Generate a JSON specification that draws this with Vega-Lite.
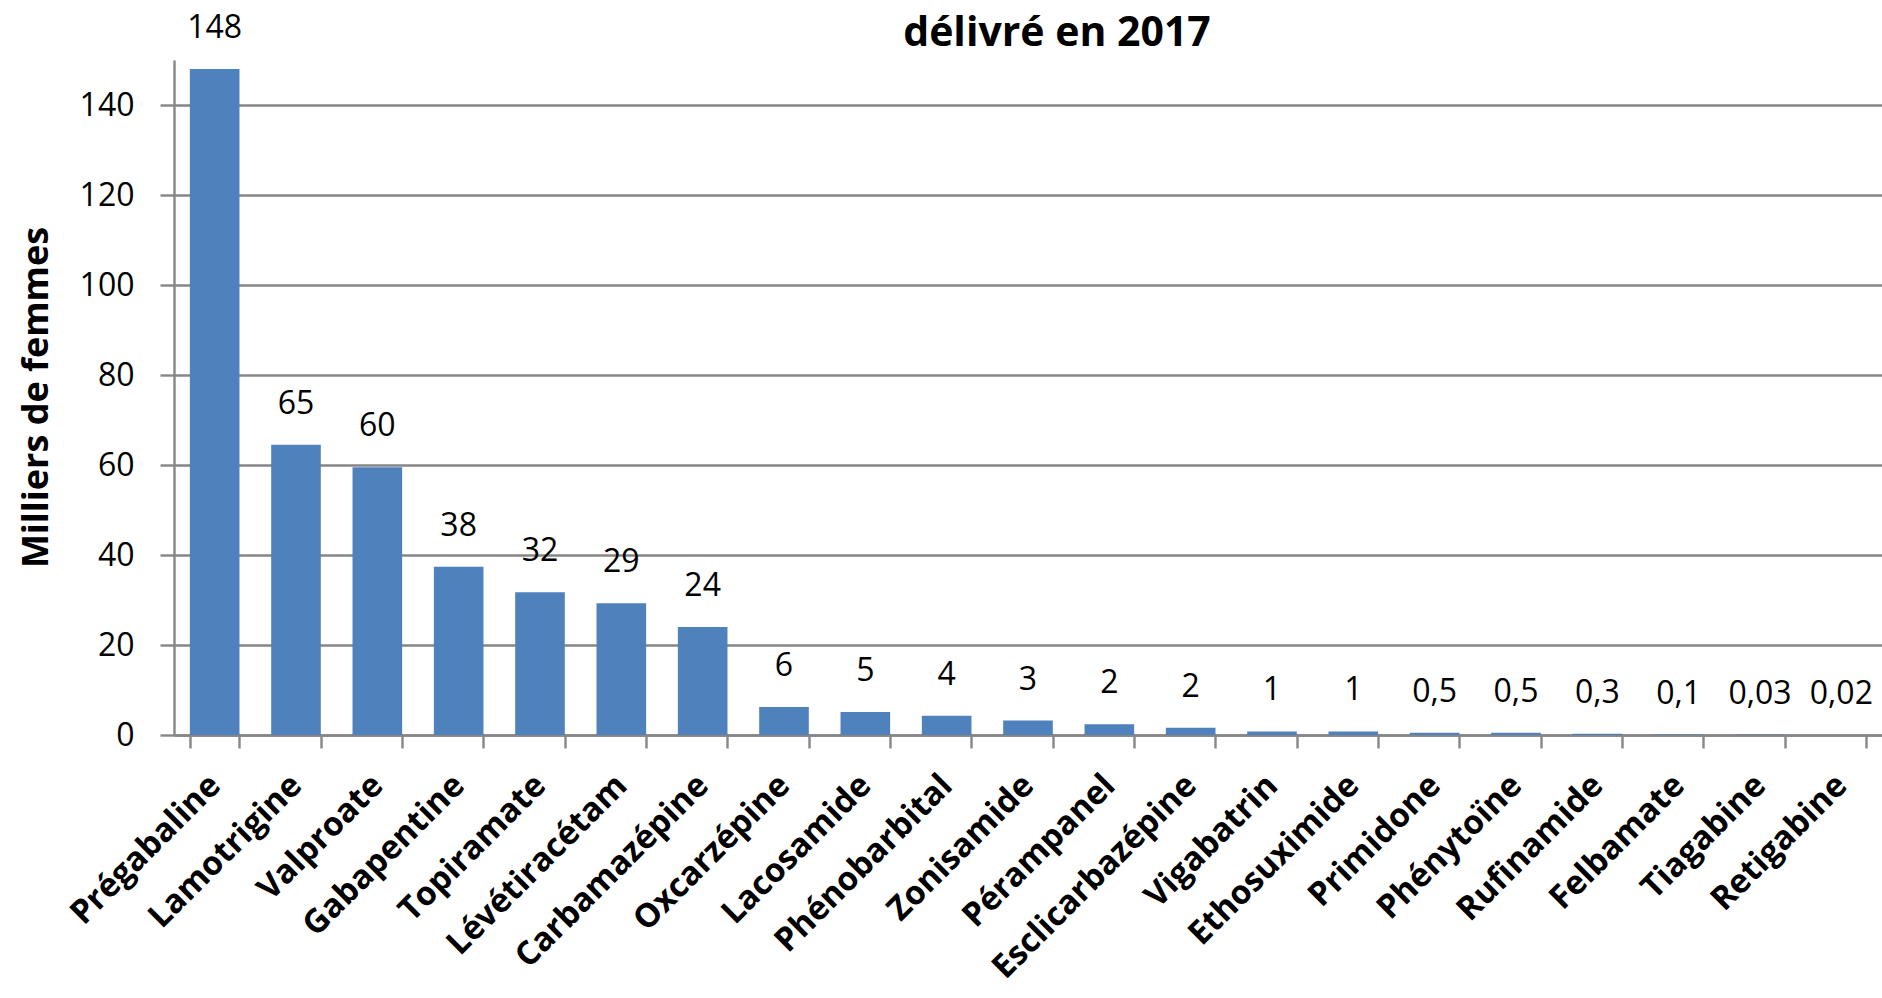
{
  "$schema": "https://vega.github.io/schema/vega-lite/v6.json",
  "width": 1708,
  "height": 675,
  "autosize": {"type": "none"},
  "padding": {"left": 174, "top": 60, "right": 0, "bottom": 263},
  "background": "white",
  "title": {
    "text": "délivré en 2017",
    "font": "Open Sans",
    "fontSize": 41,
    "fontWeight": "bold",
    "color": "black",
    "anchor": "middle",
    "offset": 18,
    "dx": 29,
    "dy": 61
  },
  "config": {
    "view": {"stroke": null},
    "font": "Open Sans"
  },
  "data": {
    "values": [
      {"molecule": "Prégabaline", "value": 148, "label": "148"},
      {"molecule": "Lamotrigine", "value": 64.5, "label": "65"},
      {"molecule": "Valproate", "value": 59.5, "label": "60"},
      {"molecule": "Gabapentine", "value": 37.4, "label": "38"},
      {"molecule": "Topiramate", "value": 31.7, "label": "32"},
      {"molecule": "Lévétiracétam", "value": 29.3, "label": "29"},
      {"molecule": "Carbamazépine", "value": 24, "label": "24"},
      {"molecule": "Oxcarzépine", "value": 6.2, "label": "6"},
      {"molecule": "Lacosamide", "value": 5.1, "label": "5"},
      {"molecule": "Phénobarbital", "value": 4.3, "label": "4"},
      {"molecule": "Zonisamide", "value": 3.2, "label": "3"},
      {"molecule": "Pérampanel", "value": 2.4, "label": "2"},
      {"molecule": "Esclicarbazépine", "value": 1.6, "label": "2"},
      {"molecule": "Vigabatrin", "value": 0.8, "label": "1"},
      {"molecule": "Ethosuximide", "value": 0.8, "label": "1"},
      {"molecule": "Primidone", "value": 0.5, "label": "0,5"},
      {"molecule": "Phénytoïne", "value": 0.5, "label": "0,5"},
      {"molecule": "Rufinamide", "value": 0.3, "label": "0,3"},
      {"molecule": "Felbamate", "value": 0.1, "label": "0,1"},
      {"molecule": "Tiagabine", "value": 0.03, "label": "0,03"},
      {"molecule": "Retigabine", "value": 0.02, "label": "0,02"}
    ]
  },
  "encoding": {
    "x": {
      "field": "molecule",
      "type": "nominal",
      "sort": null,
      "scale": {"paddingInner": 0.39, "paddingOuter": 0.195},
      "axis": {
        "title": null,
        "labelAngle": -45,
        "labelAlign": "right",
        "labelBaseline": "middle",
        "labelFont": "Open Sans",
        "labelFontSize": 33,
        "labelFontWeight": "bold",
        "labelColor": "black",
        "labelPadding": 32,
        "labelOverlap": false,
        "labelLimit": 0,
        "tickBand": "extent",
        "tickSize": 13,
        "tickWidth": 2.4,
        "tickColor": "#868686",
        "domainColor": "#868686",
        "domainWidth": 2.4
      }
    },
    "y": {
      "field": "value",
      "type": "quantitative",
      "scale": {"domain": [0, 150], "nice": false},
      "axis": {
        "title": "Milliers de femmes",
        "titleFont": "Open Sans",
        "titleFontSize": 36,
        "titleFontWeight": "bold",
        "titleColor": "black",
        "titleX": -138,
        "titleY": 337,
        "titleAlign": "center",
        "titleBaseline": "middle",
        "values": [0, 20, 40, 60, 80, 100, 120, 140],
        "labelFont": "Open Sans",
        "labelFontSize": 32,
        "labelColor": "black",
        "labelPadding": 26,
        "tickSize": 14,
        "tickWidth": 2.4,
        "tickColor": "#868686",
        "domainColor": "#868686",
        "domainWidth": 2.4,
        "grid": true,
        "gridColor": "#868686",
        "gridWidth": 2.4
      }
    }
  },
  "layer": [
    {"mark": {"type": "bar", "color": "#4F81BD"}},
    {
      "mark": {
        "type": "text",
        "font": "Open Sans",
        "fontSize": 32,
        "color": "black",
        "baseline": "alphabetic",
        "align": "center",
        "dy": -31
      },
      "encoding": {"text": {"field": "label"}}
    }
  ]
}
